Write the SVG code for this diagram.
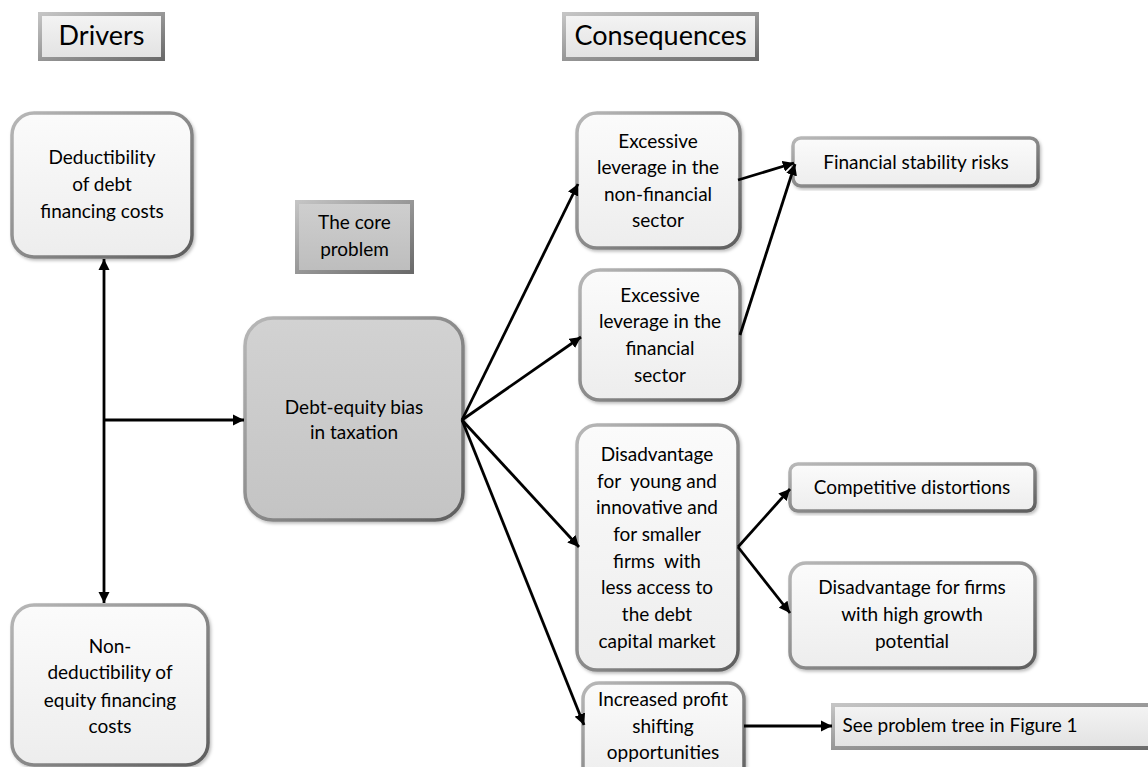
<svg xmlns="http://www.w3.org/2000/svg" width="1148" height="767" viewBox="0 0 1148 767">
<defs>
<style>
text{font-family:Lato,"Liberation Sans",sans-serif;fill:#000;text-anchor:middle}
.t{font-size:19px}
.h{font-size:27px}
.node{fill:url(#nf);stroke:url(#ns);stroke-width:3.5;filter:url(#sh)}
.core{fill:url(#cf);stroke:url(#ns);stroke-width:3.5;filter:url(#sh)}
.hdr{fill:url(#hf);stroke:url(#hs);stroke-width:4}
.hdr2{fill:url(#hf2);stroke:url(#hs);stroke-width:4}
.c{fill:none;stroke:#000;stroke-width:2.8}
</style>
<linearGradient id="nf" x1="0" y1="0" x2="0" y2="1"><stop offset="0" stop-color="#fbfbfb"/><stop offset="1" stop-color="#ededed"/></linearGradient>
<linearGradient id="cf" x1="0" y1="0" x2="0" y2="1"><stop offset="0" stop-color="#d2d2d2"/><stop offset="1" stop-color="#c4c4c4"/></linearGradient>
<linearGradient id="ns" x1="0" y1="0" x2="1" y2="1"><stop offset="0" stop-color="#b8b8b8"/><stop offset="1" stop-color="#5e5e5e"/></linearGradient>
<linearGradient id="hf" x1="0" y1="0" x2="0" y2="1"><stop offset="0" stop-color="#f4f4f4"/><stop offset="1" stop-color="#e2e2e2"/></linearGradient>
<linearGradient id="hf2" x1="0" y1="0" x2="0" y2="1"><stop offset="0" stop-color="#cfcfcf"/><stop offset="1" stop-color="#bdbdbd"/></linearGradient>
<linearGradient id="hs" x1="0" y1="0" x2="1" y2="1"><stop offset="0" stop-color="#c4c4c4"/><stop offset="1" stop-color="#6a6a6a"/></linearGradient>
<filter id="sh" x="-10%" y="-10%" width="120%" height="120%"><feDropShadow dx="1.5" dy="2" stdDeviation="1.5" flood-color="#000" flood-opacity="0.25"/></filter>
<marker id="ah" viewBox="0 0 10 10" refX="10" refY="5" markerWidth="4" markerHeight="4" orient="auto-start-reverse" markerUnits="strokeWidth"><path d="M0,0 L10,5 L0,10 z" fill="#000"/></marker>
</defs>

<g id="hdr-drivers"><rect class="hdr" x="40" y="14" width="123" height="45"/><text class="h" x="101.5" y="45">Drivers</text></g>
<g id="hdr-consequences"><rect class="hdr" x="564" y="14" width="193" height="45"/><text class="h" x="660.5" y="45">Consequences</text></g>
<g id="hdr-core"><rect class="hdr2" x="297" y="202" width="115" height="70"/><text class="t" x="354.5" y="229">The core</text><text class="t" x="354.5" y="256">problem</text></g>

<g id="n-deduct"><rect class="node" x="12" y="113" width="180" height="144" rx="22"/>
<text class="t" x="102" y="164">Deductibility</text><text class="t" x="102" y="191">of debt</text><text class="t" x="102" y="218">financing costs</text></g>

<g id="n-nondeduct"><rect class="node" x="12" y="605" width="196" height="160" rx="22"/>
<text class="t" x="110" y="653">Non-</text><text class="t" x="110" y="679">deductibility of</text><text class="t" x="110" y="707">equity financing</text><text class="t" x="110" y="733">costs</text></g>

<g id="n-core"><rect class="core" x="245" y="318" width="218" height="202" rx="28"/>
<text class="t" x="354" y="414">Debt-equity bias</text><text class="t" x="354" y="439">in taxation</text></g>

<g id="n-nonfin"><rect class="node" x="577" y="113" width="163" height="135" rx="20"/>
<text class="t" x="658" y="148">Excessive</text><text class="t" x="658" y="174">leverage in the</text><text class="t" x="658" y="201">non-financial</text><text class="t" x="658" y="227">sector</text></g>

<g id="n-fin"><rect class="node" x="580" y="270" width="160" height="130" rx="20"/>
<text class="t" x="660" y="302">Excessive</text><text class="t" x="660" y="328">leverage in the</text><text class="t" x="660" y="355">financial</text><text class="t" x="660" y="382">sector</text></g>

<g id="n-disadv"><rect class="node" x="577" y="425" width="161" height="245" rx="20"/>
<text class="t" x="657" y="461">Disadvantage</text><text class="t" x="657" y="488" xml:space="preserve">for  young and</text><text class="t" x="657" y="514">innovative and</text><text class="t" x="657" y="541">for smaller</text><text class="t" x="657" y="568" xml:space="preserve">firms  with</text><text class="t" x="657" y="594">less access to</text><text class="t" x="657" y="621">the debt</text><text class="t" x="657" y="648">capital market</text></g>

<g id="n-profit"><rect class="node" x="583" y="683" width="161" height="100" rx="16"/>
<text class="t" x="663" y="706">Increased profit</text><text class="t" x="663" y="733">shifting</text><text class="t" x="663" y="759">opportunities</text></g>

<g id="n-stability"><rect class="node" x="793" y="138" width="245" height="48" rx="8"/>
<text class="t" x="916" y="169">Financial stability risks</text></g>

<g id="n-competitive"><rect class="node" x="790" y="464" width="245" height="47" rx="8"/>
<text class="t" x="912" y="494">Competitive distortions</text></g>

<g id="n-growth"><rect class="node" x="790" y="563" width="245" height="105" rx="16"/>
<text class="t" x="912" y="594">Disadvantage for firms</text><text class="t" x="912" y="621">with high growth</text><text class="t" x="912" y="648">potential</text></g>

<g id="n-see"><rect class="hdr" x="833" y="705" width="330" height="43"/>
<text class="t" x="960" y="732">See problem tree in Figure 1</text></g>

<g id="connectors">
<line class="c" x1="104" y1="420" x2="104" y2="259" marker-end="url(#ah)"/>
<line class="c" x1="104" y1="420" x2="104" y2="603" marker-end="url(#ah)"/>
<line class="c" x1="103" y1="420" x2="244" y2="420" marker-end="url(#ah)"/>
<line class="c" x1="462" y1="420" x2="578" y2="184" marker-end="url(#ah)"/>
<line class="c" x1="462" y1="420" x2="581" y2="337" marker-end="url(#ah)"/>
<line class="c" x1="462" y1="420" x2="579" y2="547" marker-end="url(#ah)"/>
<line class="c" x1="462" y1="420" x2="584" y2="725" marker-end="url(#ah)"/>
<line class="c" x1="738" y1="180" x2="794" y2="163" marker-end="url(#ah)"/>
<line class="c" x1="740" y1="335" x2="795" y2="164" marker-end="url(#ah)"/>
<line class="c" x1="738" y1="547" x2="790" y2="489" marker-end="url(#ah)"/>
<line class="c" x1="738" y1="547" x2="790" y2="613" marker-end="url(#ah)"/>
<line class="c" x1="744" y1="726" x2="832" y2="726" marker-end="url(#ah)"/>
</g>
</svg>
